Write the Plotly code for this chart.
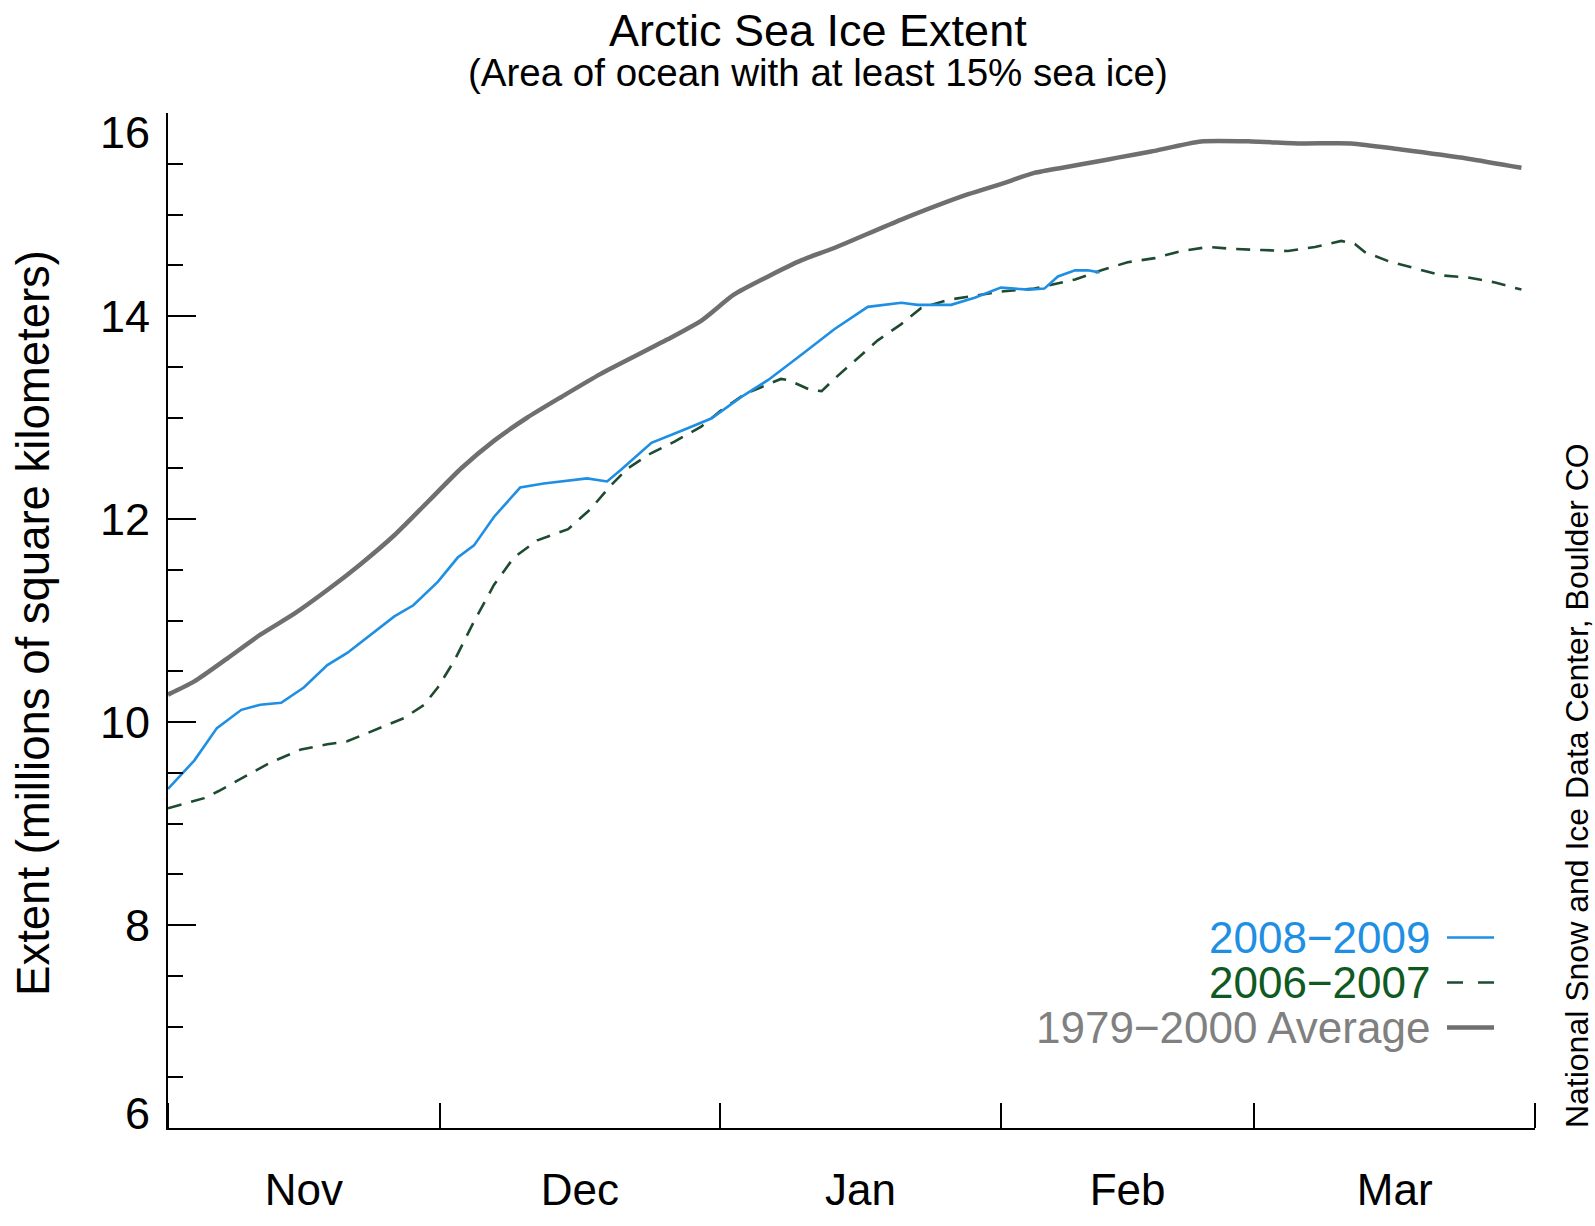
import pandas as pd
import plotly.graph_objects as go

# ---- data (day offsets from 1 Nov, extent in millions of km^2) ----
avg_days = [0, 2.9, 6.6, 10.2, 14.0, 17.6, 21.2, 25.0, 28.6, 32.4, 36.0, 39.7, 43.4, 47.8,
            55.2, 59.0, 62.5, 66.3, 70.0, 73.6, 81.0, 88.4, 92.0, 95.7, 99.4, 103.1, 104.9,
            108.6, 114.1, 119.7, 125.2, 130.7, 136.2, 143.6, 149.5]
avg_vals = [10.27, 10.40, 10.63, 10.86, 11.07, 11.30, 11.55, 11.84, 12.16, 12.50, 12.77, 13.00,
            13.20, 13.43, 13.77, 13.96, 14.21, 14.39, 14.55, 14.67, 14.95, 15.20, 15.30, 15.41,
            15.47, 15.53, 15.56, 15.62, 15.72, 15.72, 15.70, 15.70, 15.64, 15.55, 15.46]

s0809_days = [0, 2.9, 5.4, 8.1, 10.2, 12.5, 15.0, 17.6, 19.8, 22.4, 25.0, 27.1, 29.8, 32.0, 33.8,
              36.0, 38.9, 41.5, 43.4, 46.3, 47.8, 48.5, 50.1, 53.4, 57.0, 60.0, 63.3, 66.3, 70.0,
              73.6, 77.3, 81.0, 82.8, 86.5, 89.1, 92.0, 95.0, 96.8, 98.3, 100.2, 101.6, 102.9]
s0809_vals = [9.34, 9.62, 9.94, 10.12, 10.17, 10.19, 10.34, 10.56, 10.68, 10.86, 11.04, 11.15,
              11.38, 11.62, 11.74, 12.02, 12.31, 12.35, 12.37, 12.40, 12.38, 12.37, 12.49, 12.75,
              12.88, 12.99, 13.20, 13.37, 13.62, 13.87, 14.09, 14.13, 14.11, 14.11, 14.18, 14.28,
              14.26, 14.27, 14.39, 14.45, 14.45, 14.43]

s0607_days = [0, 2, 4, 5.6, 8.4, 11.3, 14.7, 17.6, 19.8, 23.1, 26.1, 28.3, 29.8, 31.6, 33.8, 36.0,
              38.2, 40.8, 44.2, 46.7, 48.9, 50.8, 53.4, 55.9, 58.9, 61.1, 63.7, 67.7, 68.5, 71.0,
              72.2, 73.6, 76.2, 78.4, 81.0, 83.2, 86.2, 88.4, 92.0, 95.7, 100.2, 103.1, 106.0,
              109.0, 111.9, 114.9, 117.8, 120.8, 123.7, 126.7, 129.6, 131.1, 132.2, 134.8, 137.7,
              140.7, 143.6, 146.6, 149.5]
s0607_vals = [9.15, 9.20, 9.25, 9.32, 9.46, 9.60, 9.73, 9.78, 9.81, 9.93, 10.04, 10.17, 10.34,
              10.60, 10.99, 11.35, 11.62, 11.79, 11.90, 12.10, 12.33, 12.50, 12.65, 12.76, 12.91,
              13.07, 13.23, 13.38, 13.37, 13.27, 13.26, 13.38, 13.59, 13.76, 13.92, 14.08, 14.16,
              14.19, 14.24, 14.27, 14.36, 14.45, 14.53, 14.57, 14.64, 14.68, 14.66, 14.65, 14.64,
              14.68, 14.74, 14.71, 14.63, 14.54, 14.47, 14.40, 14.38, 14.33, 14.26]

series_labels = ["2008\u22122009", "2006\u22122007", "1979\u22122000 Average"]
y_ticks = [6, 8, 10, 12, 14, 16]
y_tick_labels = ["6", "8", "10", "12", "14", "16"]
season_start = "2008-11-01"
season_end = "2009-04-01"

base = pd.Timestamp(season_start)
def to_dates(days):
    return base + pd.to_timedelta(days, unit="D")

BLUE = "#1E8FE3"
GREEN_LINE = "#1E4B30"
GREEN_TEXT = "#0E5A22"
GRAY_LINE = "#6F6F6F"
GRAY_TEXT = "#808080"
FONT = "Liberation Sans, Arial, Helvetica, sans-serif"

W, H = 1595, 1226
L, R, T, B = 168, 1535, 113, 1152

def px(p):
    return (p - L) / (R - L)

def py(p):
    return (B - p) / (B - T)

fig = go.Figure()
fig.add_trace(go.Scatter(x=to_dates(avg_days), y=avg_vals, mode="lines",
                         line=dict(color=GRAY_LINE, width=4.5, shape="spline", smoothing=0.6),
                         name=series_labels[2]))
fig.add_trace(go.Scatter(x=to_dates(s0607_days), y=s0607_vals, mode="lines",
                         line=dict(color=GREEN_LINE, width=2.6, dash="14px,10px"),
                         name=series_labels[1]))
fig.add_trace(go.Scatter(x=to_dates(s0809_days), y=s0809_vals, mode="lines",
                         line=dict(color=BLUE, width=2.6),
                         name=series_labels[0]))

fig.update_layout(
    width=W, height=H,
    margin=dict(l=L, r=W - R, t=T, b=H - B, pad=0),
    paper_bgcolor="white", plot_bgcolor="white",
    showlegend=False,
    font=dict(family=FONT, color="black"),
)

fig.update_xaxes(
    type="date", range=[season_start, season_end],
    dtick="M1", tick0=season_start, ticklabelmode="period", tickformat="%b",
    ticks="inside", ticklen=25, tickwidth=2, tickcolor="black",
    showline=True, linecolor="black", linewidth=2, mirror=False,
    showgrid=False, zeroline=False,
    tickfont=dict(size=44, family=FONT, color="black"),
    ticklabelstandoff=22,
)
fig.update_yaxes(
    range=[6, 16], tickvals=y_ticks, showticklabels=False,
    ticks="inside", ticklen=28, tickwidth=2, tickcolor="black",
    minor=dict(dtick=0.5, tick0=6, ticks="inside", ticklen=15, tickwidth=2, tickcolor="black"),
    showline=True, linecolor="black", linewidth=2, mirror=False,
    showgrid=False, zeroline=False,
)

# y tick labels (end labels sit slightly inside the axis range, as in the original)
for v, lab in zip(y_ticks, y_tick_labels):
    shift = -19 if v == max(y_ticks) else (15 if v == min(y_ticks) else 0)
    fig.add_annotation(text=lab, x=px(152), y=v, xref="paper", yref="y", yshift=shift,
                       showarrow=False, xanchor="right", yanchor="middle",
                       font=dict(size=45, color="black", family=FONT))

ann = [
    dict(text="Arctic Sea Ice Extent", x=px(818), y=py(29), size=45, color="black", angle=0, xa="center"),
    dict(text="(Area of ocean with at least 15% sea ice)", x=px(818), y=py(72), size=38.5, color="black", angle=0, xa="center"),
    dict(text="Extent (millions of square kilometers)", x=px(34), y=py(635), size=45.5, color="black", angle=-90, xa="center"),
    dict(text="National Snow and Ice Data Center, Boulder CO", x=px(1577), y=py(802), size=32, color="black", angle=-90, xa="center"),
    dict(text=series_labels[0], x=px(1432), y=py(957), size=44, color=BLUE, angle=0, xa="right"),
    dict(text=series_labels[1], x=px(1432), y=py(1003), size=44, color=GREEN_TEXT, angle=0, xa="right"),
    dict(text=series_labels[2], x=px(1432), y=py(1049), size=44, color=GRAY_TEXT, angle=0, xa="right"),
]
for a in ann:
    fig.add_annotation(text=a["text"], x=a["x"], y=a["y"], xref="paper", yref="paper",
                       showarrow=False, textangle=a["angle"], xanchor=a["xa"], yanchor="middle",
                       font=dict(size=a["size"], color=a["color"], family=FONT))

# legend line samples
legend_styles = [
    (957, BLUE, 2.6, "solid"),
    (1003, GREEN_LINE, 2.6, "16px,15px"),
    (1049, GRAY_LINE, 4.5, "solid"),
]
for yy, col, wd, dash in legend_styles:
    fig.add_shape(type="line", xref="paper", yref="paper",
                  x0=px(1447), x1=px(1494), y0=py(yy), y1=py(yy),
                  line=dict(color=col, width=wd, dash=dash))

fig.write_html("out.html", config={"displayModeBar": False},
               post_script="document.body.style.margin='0';document.body.style.overflow='hidden';")
